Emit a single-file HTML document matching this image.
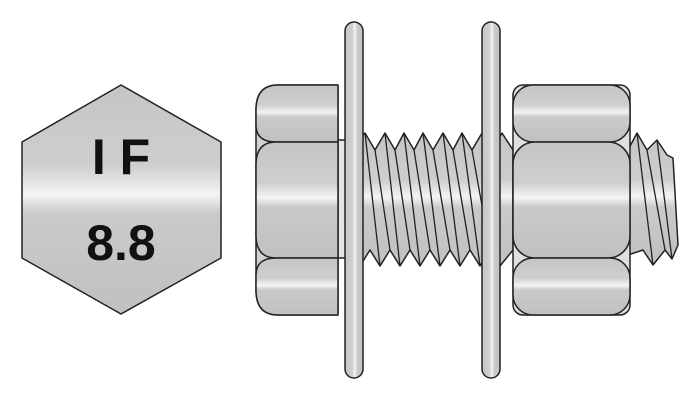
<!DOCTYPE html>
<html><head><meta charset="utf-8"><style>
html,body{margin:0;padding:0;background:#fff;}
svg{display:block;}
</style></head><body>
<svg width="700" height="400" viewBox="0 0 700 400" xmlns="http://www.w3.org/2000/svg">
<defs>
<linearGradient id="g" x1="0" y1="0" x2="0" y2="1">
<stop offset="0" stop-color="#c4c5c7"/>
<stop offset="0.35" stop-color="#cdcecf"/>
<stop offset="0.48" stop-color="#f4f4f4"/>
<stop offset="0.56" stop-color="#c9cacb"/>
<stop offset="1" stop-color="#bfc0c2"/>
</linearGradient>
<linearGradient id="gv" x1="0" y1="0" x2="1" y2="0">
<stop offset="0" stop-color="#c4c5c7"/>
<stop offset="0.4" stop-color="#cfd0d1"/>
<stop offset="0.55" stop-color="#f2f2f2"/>
<stop offset="0.7" stop-color="#c9cacb"/>
<stop offset="1" stop-color="#bfc0c2"/>
</linearGradient>
</defs>
<g stroke="#222" stroke-width="1.5" stroke-linejoin="round">
<!-- hexagon -->
<polygon points="121,85 221,142 221,258 121,314 22,258 22,142" fill="url(#g)"/>
<!-- threads bolt -->
<path d="M338,150 L350,150 L365,133 L375,150 L385,133 L395,150 L404,133 L414,150 L423,133 L433,150 L443,133 L453,150 L462,133 L472,150 L482,133 L492,150 L502,133 L513,150 L513,250 L500,266 L490,250 L480,266 L470,250 L460,266 L450,250 L440,266 L430,250 L420,266 L410,250 L400,266 L390,250 L380,266 L370,250 L360,266 L350,250 L338,250 Z" fill="url(#g)"/>
<g fill="none" stroke-width="1.3">
<path d="M365,133 L380,266 M385,133 L400,266 M404,133 L420,266 M423,133 L440,266 M443,133 L460,266 M462,133 L480,266 M482,133 L500,266"/>
<path d="M375,150 L390,250 M395,150 L410,250 M414,150 L430,250 M433,150 L450,250 M453,150 L470,250 M472,150 L490,250"/>
<path d="M350,150 L360,266"/>
</g>
<!-- bolt head -->
<rect x="336" y="140" width="12" height="118" fill="#e4e4e4"/>
<path d="M338,85 L278,85 Q256,85 256,110 L256,290 Q256,315 278,315 L338,315 Z" fill="#d0d1d2"/>
<path d="M338,85 L278,85 Q256,85 256,110 L256,125 Q256,142 276,142 L338,142 Z" fill="url(#g)"/>
<path d="M338,142 L276,142 Q256,142 256,165 L256,235 Q256,258 276,258 L338,258 Z" fill="url(#g)"/>
<path d="M338,258 L276,258 Q256,258 256,275 L256,290 Q256,315 278,315 L338,315 Z" fill="url(#g)"/>
<!-- protruding thread -->
<path d="M628,150 L637,133 L647,150 L657,140 L667,155 L673,158 L678,245 L672,259 L665,250 L653,265 L643,250 L628,255 Z" fill="url(#g)"/>
<path d="M637,133 L653,265 M657,140 L672,259 M647,150 L665,250" fill="none" stroke-width="1.3"/>
<!-- nut -->
<rect x="513" y="85" width="117" height="230" rx="10" fill="#e0e0e0"/>
<rect x="513" y="85" width="117" height="57" rx="20" fill="url(#g)"/>
<rect x="513" y="142" width="117" height="116" rx="22" fill="url(#g)"/>
<rect x="513" y="258" width="117" height="57" rx="20" fill="url(#g)"/>
<!-- washers -->
<rect x="345" y="22" width="18" height="356" rx="9" fill="url(#gv)"/>
<rect x="482" y="22" width="18" height="356" rx="9" fill="url(#gv)"/>
</g>
<g font-family="Liberation Sans, sans-serif" font-weight="bold" font-size="50" fill="#111" text-anchor="middle">
<text x="121" y="174">I F</text>
<text x="121" y="260">8.8</text>
</g>
</svg>
</body></html>
